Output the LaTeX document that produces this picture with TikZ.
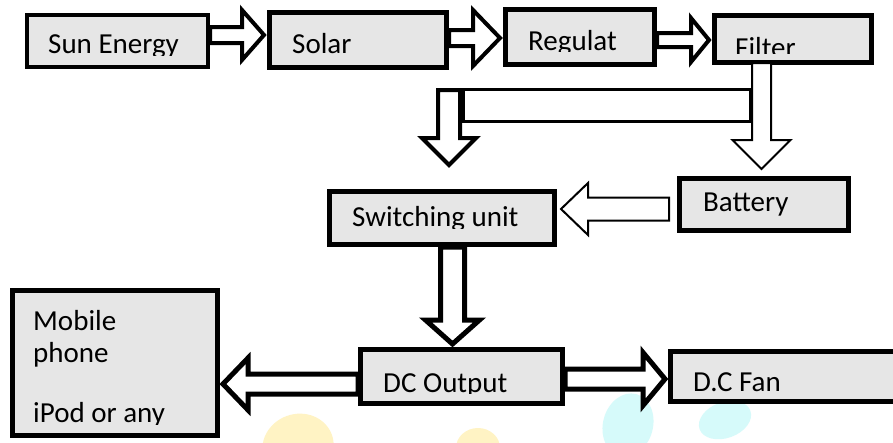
\documentclass[tikz,border=0pt]{standalone}
\usepackage{fontspec}
\setmainfont{Carlito}
\usetikzlibrary{calc}

\definecolor{boxfill}{RGB}{230,230,230}
\definecolor{wmyellow}{RGB}{255,243,196}
\definecolor{wmcyan}{RGB}{214,250,250}

\tikzset{
  blk/.style={draw=black, fill=boxfill, line width=5pt, inner sep=0pt, rectangle},
  lbl/.style={anchor=base west, inner sep=0pt, font=\fontsize{29}{35}\selectfont},
  fat/.style={draw=black, fill=white, line width=4.5pt, miter limit=20},
  slim/.style={draw=black, fill=white, line width=2pt, miter limit=20},
}

% block arrow: #1 style, #2 tail, #3 tip, #4 shaft half width, #5 head half width, #6 head length
\newcommand{\blkarrow}[6]{%
  \coordinate (ba-h) at ($(#3)!#6!(#2)$);
  \draw[#1] ($(#2)!#4!90:(#3)$) -- ($(ba-h)!#4!90:(#3)$) -- ($(ba-h)!#5!90:(#3)$) -- (#3)
    -- ($(ba-h)!#5!-90:(#3)$) -- ($(ba-h)!#4!-90:(#3)$) -- ($(#2)!#4!-90:(#3)$) -- cycle;
}

\begin{document}
\begin{tikzpicture}[x=1pt,y=-1pt]
\useasboundingbox (0,0) rectangle (893,442);
\clip (0,0) rectangle (893,442);
\fill[white] (0,0) rectangle (893,442);

% faint logo marks along the bottom edge
\fill[wmyellow, rotate around={20:(298,447)}] (298,447) ellipse [x radius=36pt, y radius=33pt];
\fill[wmyellow] (478,448) ellipse [x radius=22pt, y radius=20pt];
\fill[wmcyan, rotate around={-15:(628,425)}] (628,425) ellipse [x radius=25pt, y radius=32pt];
\fill[wmcyan, rotate around={20:(725,420)}] (725,420) ellipse [x radius=27pt, y radius=18pt];

% blocks
\node[blk, line width=4pt, minimum width=181pt, minimum height=52pt] (sun) at (117.5,41) {};
\node[blk, minimum width=177pt, minimum height=55pt] (solar) at (358,40) {};
\node[blk, minimum width=149pt, minimum height=55pt] (reg) at (580,37) {};
\node[blk, minimum width=157pt, minimum height=47pt] (filter) at (793,39) {};
\node[blk, minimum width=225pt, minimum height=53pt] (switch) at (442,218) {};
\node[blk, minimum width=169pt, minimum height=52pt] (battery) at (764,204.5) {};
\node[blk, minimum width=202pt, minimum height=54pt] (dc) at (461.5,376.5) {};
\node[blk, minimum width=227pt, minimum height=50pt] (fan) at (784,376.5) {};
\node[blk, minimum width=205pt, minimum height=145pt] (mobile) at (115,363) {};

% arrow end points
\coordinate (a1s) at ($(sun.east)+(0,-6)$);
\coordinate (a1e) at ($(solar.west)+(-3,-5)$);
\coordinate (a2s) at ($(solar.east)+(0,-2)$);
\coordinate (a2e) at ($(reg.west)+(-3,1)$);
\coordinate (a3s) at ($(reg.east)+(0,3)$);
\coordinate (a3e) at ($(filter.west)+(-3,1)$);
\coordinate (fbs) at ($(filter.south)+(-31.5,-2)$);
\coordinate (fbe) at ($(battery.north)+(-2.5,-7)$);
\coordinate (bss) at ($(battery.west)+(-8,4.5)$);
\coordinate (bse) at ($(switch.east)+(4,-9)$);
\coordinate (sds) at ($(switch.south)+(10.5,0)$);
\coordinate (sde) at ($(dc.north)+(-9,-3)$);
\coordinate (dms) at ($(dc.west)+(0,7.5)$);
\coordinate (dme) at ($(mobile.east)+(3,21)$);
\coordinate (dfs) at ($(dc.east)+(0,2.5)$);
\coordinate (dfe) at ($(fan.west)+(-3,2.5)$);

% top row
\blkarrow{fat, line width=4pt}{a1s}{a1e}{8pt}{25pt}{22pt}
\blkarrow{fat, line width=4pt}{a2s}{a2e}{8pt}{28pt}{27pt}
\blkarrow{fat, line width=4pt}{a3s}{a3e}{7pt}{22pt}{18pt}

% filter to battery, with the branch bar towards the switching unit
\blkarrow{slim}{fbs}{fbe}{9.5pt}{29pt}{29pt}
\node[draw=black, fill=white, line width=3pt, inner sep=0pt, minimum width=287pt, minimum height=32pt] (bar) at (607,105.5) {};
\coordinate (brs) at ($(bar.north west)+(-13,2)$);
\coordinate (bre) at ($(bar.south west)+(-13,42)$);
\blkarrow{fat, line width=4pt}{brs}{bre}{11pt}{27pt}{27pt}

% battery to switching unit
\blkarrow{slim}{bss}{bse}{11.5pt}{26pt}{27pt}

% switching unit down to the output, and the two loads
\blkarrow{fat, line width=5pt}{sds}{sde}{12pt}{27pt}{24pt}
\blkarrow{fat, line width=5pt}{dms}{dme}{10pt}{26pt}{25pt}
\blkarrow{fat, line width=5pt}{dfs}{dfe}{10pt}{26.5pt}{22pt}

% labels, cut off at the lower edge like the original boxes
\begin{scope}\clip (25,13) rectangle (210,55);
  \node[lbl] (sunL) at (48,53) {Sun Energy};\end{scope}
\begin{scope}\clip (267,10) rectangle (449,56);
  \node[lbl] (solarL) at (292,53) {Solar};\end{scope}
\begin{scope}\clip (503,7) rectangle (657,51.5);
  \node[lbl] (regL) at (528,50) {Regulat};\end{scope}
\begin{scope}\clip (712,13) rectangle (874,53);
  \node[lbl] (filterL) at (735,57.5) {Filter};\end{scope}
\begin{scope}\clip (327,189) rectangle (557,228);
  \node[lbl] (switchL) at (352,226) {Switching unit};\end{scope}
\begin{scope}\clip (677,176) rectangle (851,215);
  \node[lbl] (batteryL) at (703,211) {Battery};\end{scope}
\begin{scope}\clip (358,347) rectangle (565,393);
  \node[lbl] (dcL) at (383,392) {DC Output};\end{scope}
\begin{scope}\clip (668,349) rectangle (893,404);
  \node[lbl] (fanL) at (693,391) {D.C Fan};\end{scope}
\begin{scope}\clip (10,288) rectangle (220,424);
  \node[lbl] (mobileL1) at (33,330) {Mobile};
  \node[lbl] (mobileL2) at (33,362) {phone};
  \node[lbl] (mobileL3) at (33,422) {iPod or any};\end{scope}
\end{tikzpicture}
\end{document}
